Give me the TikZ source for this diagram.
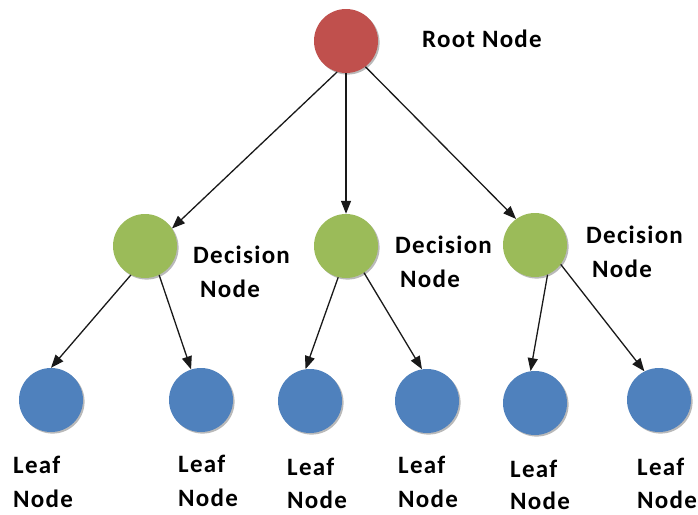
\documentclass[tikz,border=0pt]{standalone}
\usepackage{fontspec}
\setmainfont{Carlito}
\usetikzlibrary{arrows.meta,shadows}

\definecolor{rootred}{HTML}{C0504D}
\definecolor{decgreen}{HTML}{9BBB59}
\definecolor{leafblue}{HTML}{4F81BD}

\newfontfamily\labelfont[LetterSpace=5]{Carlito}

\tikzset{
  treenode/.style={circle, minimum size=64pt, inner sep=0pt,
    drop shadow={shadow xshift=1.6pt, shadow yshift=-1.6pt, fill=black!50, opacity=0.55}},
  rootnode/.style={treenode, fill=rootred},
  decnode/.style={treenode, fill=decgreen},
  leafnode/.style={treenode, fill=leafblue},
  label text/.style={anchor=base west, inner sep=0pt,
    font=\labelfont\fontsize{25}{30}\selectfont\bfseries},
  edge/.style={line width=1.3pt, draw=black!90,
    -{Triangle[length=13pt,width=10pt]}}
}

\begin{document}
\begin{tikzpicture}[x=1pt,y=-1pt]
  \useasboundingbox (0,0) rectangle (698,514);

  % circles
  \node[rootnode] (root) at (346,41) {};
  \node[decnode] (d1) at (145,246) {};
  \node[decnode] (d2) at (346,246) {};
  \node[decnode] (d3) at (535,245) {};
  \node[leafnode] (l1) at (51,400) {};
  \node[leafnode] (l2) at (201,400) {};
  \node[leafnode] (l3) at (310,401) {};
  \node[leafnode] (l4) at (427,401) {};
  \node[leafnode] (l5) at (535,403) {};
  \node[leafnode] (l6) at (659,400) {};

  % labels
  \node[label text] (troot) at (422,47) {Root Node};
  \node[label text] (td1a) at (193,263) {Decision};
  \node[label text] (td1b) at (200,297) {Node};
  \node[label text] (td2a) at (395,253) {Decision};
  \node[label text] (td2b) at (400,287) {Node};
  \node[label text] (td3a) at (586,243) {Decision};
  \node[label text] (td3b) at (592,277) {Node};

  \node[label text] (tl1a) at (13,473) {Leaf};
  \node[label text] (tl1b) at (13,507) {Node};
  \node[label text] (tl2a) at (178,472) {Leaf};
  \node[label text] (tl2b) at (178,506) {Node};
  \node[label text] (tl3a) at (287,475) {Leaf};
  \node[label text] (tl3b) at (287,508) {Node};
  \node[label text] (tl4a) at (398,473) {Leaf};
  \node[label text] (tl4b) at (398,507) {Node};
  \node[label text] (tl5a) at (510,477) {Leaf};
  \node[label text] (tl5b) at (510,509) {Node};
  \node[label text] (tl6a) at (637,475) {Leaf};
  \node[label text] (tl6b) at (637,508) {Node};

  % connectors
  \draw[edge] (root.254) -- (d1.33);
  \draw[edge] (root.270) -- (d2.90);
  \draw[edge] (root.307) -- (d3.126);

  \draw[edge] (d1.244) -- (l1.90);
  \draw[edge] (d1.296) -- (l2.108);
  \draw[edge] (d2.256) -- (l3.98);
  \draw[edge] (d2.304) -- (l4.99);
  \draw[edge] (d3.293) -- (l5.98);
  \draw[edge] (d3.323) -- (l6.117);
\end{tikzpicture}
\end{document}
